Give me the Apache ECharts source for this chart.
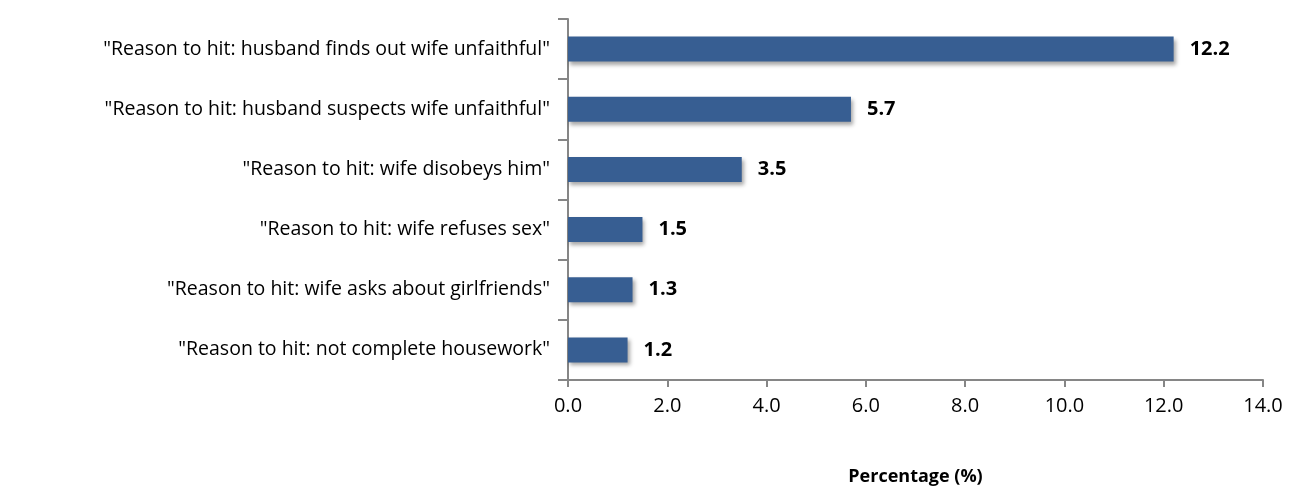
<!DOCTYPE html>
<html>
<head>
<meta charset="utf-8">
<script src="https://cdn.jsdelivr.net/npm/echarts@6/dist/echarts.min.js"></script>
<style>
  html, body { margin: 0; padding: 0; background: #fff; }
  #chart { width: 1290px; height: 489px; }
</style>
</head>
<body>
<div id="chart"></div>
<script>
// categories listed bottom to top (category axis draws first item at the bottom)
var categories = [
  '"Reason to hit: not complete housework"',
  '"Reason to hit: wife asks about girlfriends"',
  '"Reason to hit: wife refuses sex"',
  '"Reason to hit: wife disobeys him"',
  '"Reason to hit: husband suspects wife unfaithful"',
  '"Reason to hit: husband finds out wife unfaithful"'
]
var percentages = [1.2, 1.3, 1.5, 3.5, 5.7, 12.2]

var chart = echarts.init(document.getElementById('chart'))
var font = 'Open Sans'
var axisGrey = '#868686'

var option = {
  animation: false,
  grid: {
    left: 568,
    right: 27,
    top: 19,
    bottom: 109,
    outerBoundsMode: 'none'
  },
  xAxis: {
    type: 'value',
    min: 0,
    max: 14,
    interval: 2,
    name: 'Percentage (%)',
    nameLocation: 'middle',
    nameGap: 88,
    nameTextStyle: {
      fontFamily: font,
      fontSize: 18,
      fontWeight: 'bold',
      color: '#000'
    },
    axisLine: { show: true, lineStyle: { color: axisGrey, width: 2 } },
    axisTick: { show: true, length: 7, lineStyle: { color: axisGrey, width: 2 } },
    axisLabel: {
      margin: 16,
      fontFamily: font,
      fontSize: 20,
      color: '#000',
      formatter: function (v) { return v.toFixed(1) }
    },
    splitLine: { show: false }
  },
  yAxis: {
    type: 'category',
    data: categories,
    axisLine: { show: true, lineStyle: { color: axisGrey, width: 2 } },
    axisTick: { show: true, length: 10, lineStyle: { color: axisGrey, width: 2 } },
    axisLabel: {
      margin: 18,
      fontFamily: font,
      fontSize: 19.5,
      color: '#000'
    }
  },
  series: [
    {
      type: 'bar',
      data: percentages,
      barWidth: 25,
      itemStyle: {
        color: '#375E92',
        shadowColor: 'rgba(0,0,0,0.35)',
        shadowBlur: 4,
        shadowOffsetX: 2,
        shadowOffsetY: 3
      },
      label: {
        show: true,
        position: 'right',
        distance: 16,
        fontFamily: font,
        fontSize: 20,
        fontWeight: 'bold',
        color: '#000',
        formatter: function (p) { return p.value.toFixed(1) }
      }
    }
  ]
}

chart.setOption(option)
</script>
</body>
</html>
